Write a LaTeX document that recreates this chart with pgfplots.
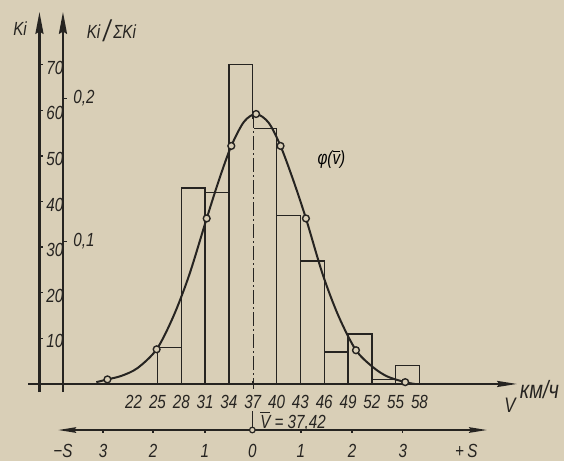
\documentclass[border=0pt]{standalone}
\usepackage{fontspec}
\setmainfont{Liberation Sans}[FakeStretch=0.8]
\usepackage{pgfplots}
\pgfplotsset{compat=1.18}
\usetikzlibrary{arrows.meta}
\definecolor{paper}{RGB}{217,207,183}
\definecolor{ink}{RGB}{38,36,33}

\tikzset{
  uparr/.style={-{Stealth[length=11pt,width=4pt,inset=1.2pt]}},
  rtarr/.style={-{Stealth[length=10pt,width=3pt,inset=1pt]}},
  both/.style={{Stealth[length=9pt,width=2.8pt,inset=1pt]}-{Stealth[length=9pt,width=2.8pt,inset=1pt]}},
}

\begin{document}
\begin{tikzpicture}[font=\fontsize{9.5}{11}\selectfont\itshape]
\begin{axis}[
    name=main,
    x=3.97pt, y=2.28pt,
    xmin=5.17, xmax=76.2,
    ymin=-16.8, ymax=84.2,
    enlargelimits=false,
    axis lines=none,
    xtick=\empty, ytick=\empty,
    clip=false,
]
% paper
\fill[paper] (rel axis cs:0,0) rectangle (rel axis cs:1,1);

% histogram, Ki per 3 km/h class
\addplot[ybar interval, draw=ink, fill=none, line width=0.7pt] coordinates {
  (25,8) (28,43) (31,42) (34,70) (37,56) (40,37) (43,27)
  (46,7) (49,11) (52,1) (55,4) (58,0)
};

% centre line at the mean
\draw[paper, line width=1.4pt] (axis cs:37,0.6) -- (axis cs:37,58);
\draw[ink, line width=0.8pt, dash pattern=on 7pt off 1.5pt on 1pt off 1.5pt]
  (axis cs:37.1,59.2) -- (axis cs:37.1,-1);

% fitted curve phi(v)
\addplot[ink, line width=1pt, smooth] coordinates {
  (17.3,0.4) (18.7,1.0) (20.5,1.8) (22.5,3.5) (24.9,7.6) (27,14.8)
  (29,23.9) (31.2,36.3) (32.8,45.0) (34.3,52.2) (35.9,57.5) (37.42,59.2)
  (39,57.3) (40.5,52.2) (42.1,44.7) (43.7,36.3) (45.8,24.1) (47.8,14.9)
  (50,7.4) (52.2,3.6) (54,1.6) (56.2,0.4) (57.4,0)
};
\addplot[only marks, mark=*, mark size=1.7pt,
  mark options={fill=paper, draw=ink, line width=0.7pt}] coordinates {
  (18.7,1.0) (24.9,7.6) (31.2,36.3) (34.3,52.2) (37.42,59.2)
  (40.5,52.2) (43.7,36.3) (50,7.4) (56.2,0.4)
};
\node at (axis cs:46.9,49.2) {φ(\ensuremath{\overline{\mbox{v}}})};

% v axis
\draw[ink, line width=1.1pt, rtarr] (axis cs:8.7,0) -- (axis cs:70.3,0);
\pgfplotsinvokeforeach{22,25,...,58}{
  \node[ink] at (axis cs:#1,-3.9) {#1};
}
\node[ink] at (axis cs:69.4,-4.6) {\fontsize{10.5}{12}\selectfont V};
\node[ink, anchor=west, inner sep=0pt] at (axis cs:70.6,-1.3)
  {\fontsize{12.5}{13}\selectfont км/ч};

% Ki axis
\draw[ink, line width=1.2pt, uparr] (axis cs:10.14,-1.8) -- (axis cs:10.14,81.6);
\pgfplotsinvokeforeach{10,20,...,70}{
  \draw[ink, line width=0.7pt] (axis cs:10.14,#1) -- ([xshift=2pt]axis cs:10.14,#1);
  \node[ink, anchor=west, inner sep=0pt, xshift=3.3pt, yshift=-1.5pt]
    at (axis cs:10.14,#1) {#1};
}
\node[ink] at (axis cs:7.7,78.0) {Ki};

% Ki / sum Ki axis
\draw[ink, line width=1.2pt, uparr] (axis cs:13.1,-1.8) -- (axis cs:13.1,81.6);
\draw[ink, line width=0.7pt] (axis cs:13.1,31.3) -- ([xshift=2pt]axis cs:13.1,31.3);
\draw[ink, line width=0.7pt] (axis cs:13.1,62.6) -- ([xshift=2pt]axis cs:13.1,62.6);
\node[ink, anchor=west, inner sep=0pt, xshift=5pt] at (axis cs:13.1,31.3) {0,1};
\node[ink, anchor=west, inner sep=0pt, xshift=5pt] at (axis cs:13.1,62.6) {0,2};
\node[ink] at (axis cs:19.2,77.5) {Ki\,\raisebox{-0.25ex}{\fontsize{15}{15}\selectfont/}\,ΣKi};

% S axis
\draw[ink, line width=0.9pt, both] (axis cs:12.5,-10.1) -- (axis cs:66.5,-10.1);
\draw[ink, line width=0.8pt] (axis cs:36.95,-6.0) -- (axis cs:36.95,-10.1);
\addplot[only marks, mark=*, mark size=1.4pt,
  mark options={fill=paper, draw=ink, line width=0.6pt}] coordinates {(36.95,-10.1)};
\node[ink, anchor=west, inner sep=0pt] at (axis cs:37.9,-8.1)
  {\ensuremath{\overline{\mbox{V}}} = 37,42};
\pgfplotsinvokeforeach{18.14,24.44,30.98,43.07,49.5,55.9}{
  \draw[ink, line width=0.6pt] (axis cs:#1,-10.1) -- ([yshift=-1.5pt]axis cs:#1,-10.1);
}
\node[ink] at (axis cs:18.14,-14.7) {3};
\node[ink] at (axis cs:24.44,-14.7) {2};
\node[ink] at (axis cs:30.98,-14.7) {1};
\node[ink] at (axis cs:36.95,-14.7) {0};
\node[ink] at (axis cs:43.07,-14.7) {1};
\node[ink] at (axis cs:49.5,-14.7) {2};
\node[ink] at (axis cs:55.9,-14.7) {3};
\node[ink] at (axis cs:13.1,-14.7) {−S};
\node[ink] at (axis cs:63.9,-14.7) {+\,S};
\end{axis}
\pgfresetboundingbox
\useasboundingbox (main.south west) rectangle (main.north east);
\end{tikzpicture}
\end{document}
